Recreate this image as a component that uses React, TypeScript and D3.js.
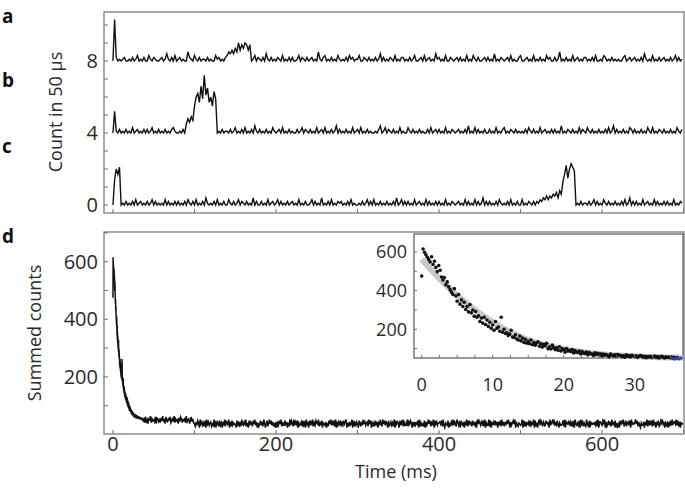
import React from 'react';
import * as d3 from 'd3';

// ---------- DATA ----------
// Photon-count traces (panels a, b, c), one char per 2 ms bin, base-36, in units of 0.1 count
const traceStepMs = 2;
const traceA =
  "0n20101200" + "1020130102" + "0031021001" + "2014102030" + "1201005210" +
  "3102011020" + "1003120102" + "3546475a69" + "7a96901302" + "1020410201" +
  "0210301020" + "2001302102" + "0120105102" + "3010201031" + "0102031201" +
  "1300210201" + "0201402010" + "2103010220" + "1020130012" + "0301201041" +
  "2010300210" + "1202010301" + "0310200120" + "2010401021" + "0120301002" +
  "3001201030" + "1020103120" + "0201501020" + "1030120102" + "2010203001" +
  "0320102010" + "1002301201" + "2010204101" + "0301020120" + "1020130201";
const traceB =
  "0c10201020" + "1030120102" + "0201301020" + "1020102310" + "0102058697" +
  "fkmhqjwlph" + "kfnj010201" + "1020130102" + "0301020410" + "2010201031" +
  "0120301020" + "1002013021" + "0201030120" + "3010201402" + "0102010301" +
  "2030102010" + "0102401302" + "1020103010" + "0310201020" + "1002030120" +
  "2010301021" + "0120102040" + "1030201020" + "0201030102" + "3010210201" +
  "0102031020" + "1030120102" + "0201040102" + "1020103021" + "0310201020" +
  "1020301402" + "0102010320" + "2010201031" + "0301021020" + "1020103102";
const traceC =
  "0ekhl01020" + "1020301201" + "0201302010" + "1030201020" + "2010203102" +
  "0301020410" + "1020301020" + "0310201302" + "1020104020" + "0201030120" +
  "1302010201" + "2010301020" + "0130201040" + "1020301021" + "2010203010" +
  "0102013020" + "3010201020" + "1020401302" + "0201030120" + "1030201020" +
  "2010301021" + "0120103020" + "1030201402" + "0201020310" + "1020301020" +
  "0301021020" + "2132435354" + "657486dhmf" + "knlj010201" + "1020130201" +
  "0310201020" + "1020301402" + "0201030120" + "1030201020" + "2010301021";
const traceStrings = [traceA, traceB, traceC];
const traceOffsets = [8, 4, 0];
const traceLetters = ["a", "b", "c"];

// Summed counts (panel d and inset), first 36 ms at 0.2 ms spacing
const decayStepMs = 0.2;
const decayCounts = [
  475, 615, 598, 585, 572, 560, 548, 575, 535, 552,
  520, 498, 530, 505, 470, 455, 468, 430, 445, 420,
  405, 392, 380, 410, 372, 345, 380, 330, 352, 318,
  340, 302, 318, 290, 328, 285, 300, 268, 292, 262,
  270, 240, 258, 232, 262, 225, 248, 215, 236, 205,
  222, 195, 240, 205, 212, 190, 262, 185, 200, 178,
  182, 168, 175, 195, 160, 158, 172, 150, 145, 165,
  140, 155, 132, 148, 128, 138, 125, 145, 120, 132,
  118, 130, 135, 112, 125, 108, 122, 115, 128, 100,
  110, 98, 118, 105, 95, 104, 92, 110, 88, 100,
  95, 82, 100, 88, 92, 85, 96, 78, 90, 82,
  80, 88, 72, 85, 78, 75, 82, 68, 80, 74,
  72, 65, 78, 70, 76, 68, 74, 62, 72, 66,
  70, 64, 58, 72, 66, 62, 68, 60, 70, 64,
  66, 58, 63, 55, 68, 60, 64, 57, 66, 62,
  58, 63, 55, 60, 64, 62, 56, 60, 53, 59,
  57, 61, 54, 58, 62, 55, 59, 52, 57, 60,
  56, 52, 58, 54, 57, 53, 56, 50, 55, 52,
  54,
];
// Tail of summed counts, one char per 1 ms (base-36 code)
const tailEarlyStart = 37;
const tailEarlyBase = 18;
const tailEarlyStep = 3.3;
const tailEarly =
  "9b7d8a6c9e" + "7b9a8d6cb8" + "a7c9e8b6d9" + "8bad79c8e7" + "b9a6c8db7a" + "9c7e8ab69d" + "8b7";
const tailLateStart = 100;
const tailLateBase = 16;
const tailLateStep = 4;
const tailLate =
  "5374862957" + "4638295746" + "7354926485" + "3846275938" + "6492738465" +
  "5283647395" + "4759362847" + "6385947263" + "5847396258" + "3695847362" +
  "7264859374" + "4857263948" + "6394758264" + "5738462957" + "2847593648" +
  "6593748265" + "4726385947" + "5839264758" + "3648579263" + "7459283647" +
  "5286374958" + "4673958264" + "6385726495" + "3958476283" + "5746392857" +
  "6284759364" + "4937586273" + "7465829364" + "5382746958" + "3649285746" +
  "6758394265" + "4826375948" + "5397462854" + "7264938576" + "3856472958" +
  "6475839264" + "4938265748" + "5627483956" + "3748596274" + "6859274365" +
  "4592837465" + "7384659283" + "5279486375" + "3865729468" + "6947385264" +
  "4583927657" + "5736482954" + "6482957364" + "3957284656" + "5648392775" +
  "4869273584" + "7395648263" + "5284769358" + "3674829565" + "6958374264" +
  "4726593847" + "5839472658" + "3486957264" + "6273849567" + "5948372656";

// Fit curve in the inset
const fitTimes = [0, 2.5, 5, 7.5, 10, 12.5, 15, 17.5, 20, 22.5, 25, 27.5, 30, 32.5, 35, 36.8];
const fitCounts = [562, 462, 376, 300, 238, 185, 145, 117, 97, 83, 73, 66, 61, 57, 54, 53];
// Blue markers at the end of the inset
const blueTimes = [35.3, 35.6, 35.9, 36.2, 36.5];
const blueCounts = [50, 47, 52, 48, 51];

// Axis ticks
const topXTicks = [0, 100, 200, 300, 400, 500, 600, 700];
const bottomXLabels = [0, 200, 400, 600];
const topYTicks = [0, 1, 2, 3, 4, 5, 6, 7, 8, 9, 10];
const topYLabels = [0, 4, 8];
const botYTicks = [100, 200, 300, 400, 500, 600, 700];
const botYLabels = [200, 400, 600];
const insetXTicks = [0, 2.5, 5, 7.5, 10, 12.5, 15, 17.5, 20, 22.5, 25, 27.5, 30, 32.5, 35];
const insetXLabels = [0, 10, 20, 30];
const insetYTicks = [100, 200, 300, 400, 500, 600];
const insetYLabels = [200, 400, 600];

// ---------- LAYOUT ----------
const W = 685, H = 493;
const FONT = "'Open Sans', 'DejaVu Sans', sans-serif";
const TXT = "#2a2a2a";
const FRAME = "#707070";

const top = { x0: 104, x1: 684, y0: 12, y1: 213 };
const bot = { x0: 104, x1: 684, y0: 232, y1: 434 };
const ins = { x0: 414, x1: 683, y0: 234, y1: 358 };

export default function App() {
  const xTop = d3.scaleLinear().domain([-11.0, 700.5]).range([top.x0, top.x1]);
  const yTop = d3.scaleLinear().domain([-0.44, 10.72]).range([top.y1, top.y0]);
  const xBot = xTop.copy().range([bot.x0, bot.x1]);
  const yBot = d3.scaleLinear().domain([0, 703]).range([434.5, bot.y0]);
  const xIn = d3.scaleLinear().domain([-1.08, 36.8]).range([ins.x0, ins.x1]);
  const yIn = d3.scaleLinear().domain([51.7, 692.5]).range([ins.y1, ins.y0]);

  const traces = traceStrings.map((s, k) =>
    s.split("").map((c, i) => [i * traceStepMs, traceOffsets[k] + parseInt(c, 36) * 0.1] as [number, number])
  );
  const traceLine = d3.line<[number, number]>().x(d => xTop(d[0])).y(d => yTop(d[1]));

  const decayPts = decayCounts.map((v, i) => [i * decayStepMs, v] as [number, number]);
  const earlyPts = tailEarly.split("").map((c, i) => [tailEarlyStart + i, tailEarlyBase + tailEarlyStep * parseInt(c, 36)] as [number, number]);
  const latePts = tailLate.split("").map((c, i) => [tailLateStart + i, tailLateBase + tailLateStep * parseInt(c, 36)] as [number, number]);
  const sumPts = [...decayPts, ...earlyPts, ...latePts];
  const sumLine = d3.line<[number, number]>().x(d => xBot(d[0])).y(d => yBot(d[1]));

  const fitPts = fitTimes.map((t, i) => [t, fitCounts[i]] as [number, number]);
  const fitLine = d3.line<[number, number]>().x(d => xIn(d[0])).y(d => yIn(d[1])).curve(d3.curveMonotoneX);

  const tickLen = 4;

  return (
    <svg width={W} height={H} style={{ position: "absolute", left: 0, top: 0, background: "#fff" }} fontFamily={FONT}>
      {/* Panel letters */}
      {traceLetters.map((l, k) => (
        <text key={l} x={2} y={[23, 87, 153][k]} fontSize={19} fontWeight="bold" fill="#111">{l}</text>
      ))}
      <text x={2} y={243} fontSize={19} fontWeight="bold" fill="#111">d</text>

      <defs>
        <clipPath id="clipTop"><rect x={top.x0} y={top.y0} width={top.x1 - top.x0} height={top.y1 - top.y0} /></clipPath>
        <clipPath id="clipBot"><rect x={bot.x0} y={bot.y0} width={bot.x1 - bot.x0} height={bot.y1 - bot.y0} /></clipPath>
      </defs>

      {/* ---- Top panel ---- */}
      <g clipPath="url(#clipTop)">
        {traces.map((pts, k) => (
          <path key={k} d={traceLine(pts) || ""} fill="none" stroke="#111" strokeWidth={1.4} strokeLinejoin="miter" />
        ))}
      </g>
      <rect x={top.x0} y={top.y0} width={top.x1 - top.x0} height={top.y1 - top.y0} fill="none" stroke={FRAME} strokeWidth={1.2} />
      {topYTicks.map(v => (
        <line key={v} x1={top.x0} x2={top.x0 + tickLen} y1={yTop(v)} y2={yTop(v)} stroke={FRAME} strokeWidth={1} />
      ))}
      {topXTicks.map(v => (
        <line key={v} x1={xTop(v)} x2={xTop(v)} y1={top.y1} y2={top.y1 - tickLen} stroke={FRAME} strokeWidth={1} />
      ))}
      {topYLabels.map(v => (
        <text key={v} x={98} y={yTop(v)} dy="0.36em" textAnchor="end" fontSize={20} fill={TXT}>{v}</text>
      ))}
      <text transform={`translate(62,${112}) rotate(-90)`} textAnchor="middle" fontSize={18} fill={TXT}>Count in 50 μs</text>

      {/* ---- Bottom panel ---- */}
      <g clipPath="url(#clipBot)">
        <path d={sumLine(sumPts) || ""} fill="none" stroke="#111" strokeWidth={1.5} />
      </g>
      <rect x={bot.x0} y={bot.y0} width={bot.x1 - bot.x0} height={bot.y1 - bot.y0} fill="none" stroke={FRAME} strokeWidth={1.2} />
      {botYTicks.map(v => (
        <line key={v} x1={bot.x0} x2={bot.x0 + tickLen} y1={yBot(v)} y2={yBot(v)} stroke={FRAME} strokeWidth={1} />
      ))}
      {topXTicks.map(v => (
        <line key={v} x1={xBot(v)} x2={xBot(v)} y1={bot.y1} y2={bot.y1 - tickLen} stroke={FRAME} strokeWidth={1} />
      ))}
      {botYLabels.map(v => (
        <text key={v} x={98} y={yBot(v)} dy="0.36em" textAnchor="end" fontSize={20} fill={TXT}>{v}</text>
      ))}
      {bottomXLabels.map(v => (
        <text key={v} x={xBot(v)} y={451} textAnchor="middle" fontSize={20} fill={TXT}>{v}</text>
      ))}
      <text transform={`translate(41,${333}) rotate(-90)`} textAnchor="middle" fontSize={18} fill={TXT}>Summed counts</text>
      <text x={396} y={478} textAnchor="middle" fontSize={18} fill={TXT}>Time (ms)</text>

      {/* ---- Inset ---- */}
      <rect x={ins.x0} y={ins.y0} width={ins.x1 - ins.x0} height={ins.y1 - ins.y0} fill="#fff" stroke={FRAME} strokeWidth={1.4} />
      <path d={fitLine(fitPts) || ""} fill="none" stroke="#c8c8c8" strokeWidth={6} />
      {decayPts.map((d, i) => (
        <circle key={i} cx={xIn(d[0])} cy={yIn(d[1])} r={1.8} fill="#111" />
      ))}
      {blueTimes.map((t, i) => (
        <circle key={"b" + i} cx={xIn(t)} cy={yIn(blueCounts[i])} r={1.7} fill="#3044a8" />
      ))}
      {insetXTicks.map(v => (
        <line key={v} x1={xIn(v)} x2={xIn(v)} y1={ins.y1} y2={ins.y1 - 3} stroke={FRAME} strokeWidth={1} />
      ))}
      {insetYTicks.map(v => (
        <line key={v} x1={ins.x0} x2={ins.x0 + 3} y1={yIn(v)} y2={yIn(v)} stroke={FRAME} strokeWidth={1} />
      ))}
      {insetYLabels.map(v => (
        <text key={v} x={407} y={yIn(v)} dy="0.36em" textAnchor="end" fontSize={18} fill={TXT}>{v}</text>
      ))}
      {insetXLabels.map(v => (
        <text key={v} x={xIn(v)} y={391} textAnchor="middle" fontSize={18} fill={TXT}>{v}</text>
      ))}
    </svg>
  );
}
